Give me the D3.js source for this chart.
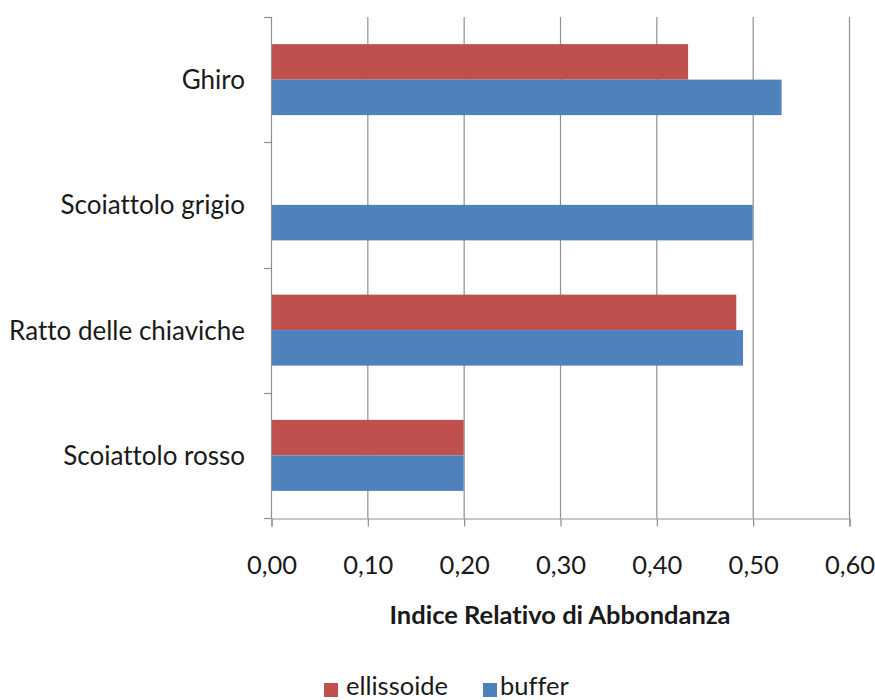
<!DOCTYPE html>
<html>
<head>
<meta charset="utf-8">
<script src="https://cdn.jsdelivr.net/npm/d3@7"></script>
<style>
  html, body { margin: 0; padding: 0; background: #fff; }
  svg { display: block; font-family: Lato, "Open Sans", sans-serif; font-variant-ligatures: none; }
</style>
</head>
<body>
<svg id="chart" width="875" height="700"></svg>
<script>
// Species (top to bottom) and the two estimation methods
const categories = ["Ghiro", "Scoiattolo grigio", "Ratto delle chiaviche", "Scoiattolo rosso"];
const seriesNames = ["ellissoide", "buffer"];
const ellissoide = [0.433, 0, 0.483, 0.20];
const buffer = [0.53, 0.50, 0.49, 0.20];
const xTicks = [0, 0.1, 0.2, 0.3, 0.4, 0.5, 0.6];
const xTitle = "Indice Relativo di Abbondanza";
const colors = { ellissoide: "#C0504D", buffer: "#4F81BD" };

const plot = { left: 271, right: 849, top: 17, bottom: 518 };
const svg = d3.select("#chart");

const x = d3.scaleLinear().domain([0, 0.6]).range([plot.left, plot.right]);
const y = d3.scaleBand().domain(categories).range([plot.top, plot.bottom]).padding(0);
// Each bar pair fills the middle part of its category band
const inner = d3.scaleBand().domain(seriesNames)
  .range([0, y.bandwidth()]).paddingOuter(0.764).paddingInner(0);

const gridColor = "#8f8f8f";
const textColor = "#1a1a1a";
const labelSize = 26;

// Vertical gridlines
svg.append("g").selectAll("line")
  .data(xTicks.filter(d => d > 0))
  .join("line")
  .attr("x1", d => x(d) + 0.5).attr("x2", d => x(d) + 0.5)
  .attr("y1", plot.top).attr("y2", plot.bottom)
  .attr("stroke", gridColor).attr("stroke-width", 1.2);

// Bars
const rows = categories.map((c, i) => ({ cat: c, ellissoide: ellissoide[i], buffer: buffer[i] }));
const groups = svg.append("g").selectAll("g")
  .data(rows).join("g")
  .attr("transform", d => `translate(0,${y(d.cat)})`);
groups.selectAll("rect")
  .data(d => seriesNames.map(s => ({ s, v: d[s] })))
  .join("rect")
  .attr("x", x(0))
  .attr("y", d => inner(d.s))
  .attr("width", d => x(d.v) - x(0))
  .attr("height", inner.bandwidth())
  .attr("fill", d => colors[d.s]);

// X axis
const xAxis = svg.append("g")
  .attr("transform", `translate(0.5,${plot.bottom + 0.5})`)
  .call(d3.axisBottom(x).tickValues(xTicks).tickSize(8).tickPadding(29)
    .tickFormat(d => d3.format(".2f")(d).replace(".", ",")));
xAxis.select(".domain").attr("stroke", gridColor).attr("stroke-width", 1.2);
xAxis.selectAll(".tick line").attr("stroke", gridColor).attr("stroke-width", 1.2);
xAxis.selectAll(".tick text")
  .attr("fill", textColor).attr("font-size", 25.5)
  .attr("font-family", "Lato, sans-serif");

// Y axis: ticks at band boundaries, labels centred in bands
const yEdges = categories.map(c => y(c)).concat([plot.bottom]);
svg.append("line")
  .attr("x1", plot.left + 0.5).attr("x2", plot.left + 0.5)
  .attr("y1", plot.top).attr("y2", plot.bottom)
  .attr("stroke", gridColor).attr("stroke-width", 1.2);
svg.append("g").selectAll("line")
  .data(yEdges).join("line")
  .attr("x1", plot.left - 7).attr("x2", plot.left + 0.5)
  .attr("y1", d => Math.round(d) + 0.5).attr("y2", d => Math.round(d) + 0.5)
  .attr("stroke", gridColor).attr("stroke-width", 1.2);
svg.append("g").selectAll("text")
  .data(categories).join("text")
  .attr("x", 245)
  .attr("y", d => y(d) + y.bandwidth() / 2 + 9.5)
  .attr("text-anchor", "end")
  .attr("font-size", labelSize)
  .attr("fill", textColor)
  .text(d => d);

// Axis title
svg.append("text")
  .attr("x", (plot.left + plot.right) / 2)
  .attr("y", 624)
  .attr("text-anchor", "middle")
  .attr("font-size", 25.5)
  .attr("font-weight", "bold")
  .attr("fill", textColor)
  .text(xTitle);

// Legend
const legendItems = [
  { name: seriesNames[0], sx: 324, tx: 346 },
  { name: seriesNames[1], sx: 483, tx: 500 }
];
const lg = svg.append("g");
lg.selectAll("rect").data(legendItems).join("rect")
  .attr("x", d => d.sx).attr("y", 683)
  .attr("width", 14).attr("height", 14)
  .attr("fill", d => colors[d.name]);
lg.selectAll("text").data(legendItems).join("text")
  .attr("x", d => d.tx).attr("y", 695)
  .attr("font-size", 25.5)
  .attr("fill", textColor)
  .text(d => d.name);
</script>
</body>
</html>
